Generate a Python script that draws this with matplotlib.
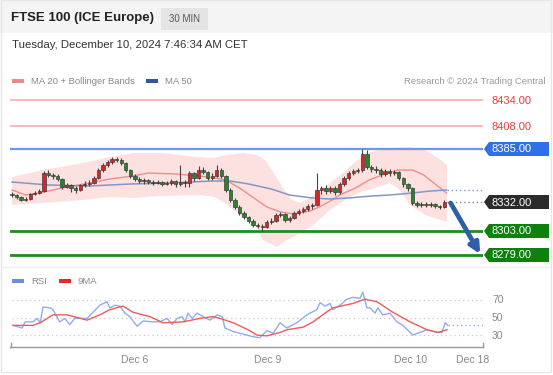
import numpy as np
import matplotlib
matplotlib.use('Agg')
import matplotlib.pyplot as plt
from matplotlib.patches import Polygon, Rectangle

plt.rcParams['font.family'] = ['Liberation Sans', 'DejaVu Sans']

# ---- data ----
opens = [8340, 8339, 8337, 8334, 8335, 8340, 8341, 8343, 8361, 8359, 8358, 8355, 8347, 8349, 8346, 8344,
         8349, 8350, 8351, 8356, 8364, 8369, 8372, 8375, 8374, 8371, 8364, 8358, 8355, 8353, 8354, 8352,
         8351, 8352, 8350, 8351, 8353, 8350, 8352, 8351, 8361, 8356, 8364, 8362, 8356, 8358, 8364, 8358,
         8344, 8334, 8327, 8321, 8317, 8313, 8309, 8308, 8307, 8312, 8313, 8319, 8320, 8314, 8316, 8321,
         8323, 8325, 8328, 8329, 8344, 8346, 8343, 8346, 8342, 8350, 8356, 8361, 8363, 8364, 8380, 8367,
         8365, 8364, 8360, 8363, 8361, 8362, 8356, 8350, 8346, 8331, 8329, 8330, 8329, 8330, 8328, 8327]
closes = [8339, 8337, 8334, 8335, 8340, 8341, 8343, 8361, 8359, 8358, 8355, 8347, 8349, 8346, 8344, 8349,
          8350, 8351, 8356, 8364, 8369, 8372, 8375, 8374, 8371, 8364, 8358, 8355, 8353, 8354, 8352, 8351,
          8352, 8350, 8351, 8353, 8350, 8352, 8351, 8361, 8356, 8364, 8362, 8356, 8358, 8364, 8358, 8344,
          8334, 8327, 8321, 8317, 8313, 8309, 8308, 8307, 8312, 8313, 8319, 8320, 8314, 8316, 8321, 8323,
          8325, 8328, 8329, 8344, 8346, 8343, 8346, 8342, 8350, 8356, 8361, 8363, 8364, 8380, 8367, 8365,
          8364, 8360, 8363, 8361, 8362, 8356, 8350, 8346, 8331, 8329, 8330, 8329, 8330, 8328, 8327, 8332]
highs = [8342, 8340, 8338, 8337, 8341, 8343, 8345, 8363, 8364, 8361, 8360, 8356, 8351, 8350, 8348, 8350,
         8353, 8354, 8358, 8366, 8371, 8374, 8377, 8377, 8376, 8372, 8365, 8360, 8357, 8356, 8355, 8354,
         8354, 8353, 8353, 8355, 8354, 8369, 8354, 8363, 8362, 8368, 8367, 8363, 8361, 8369, 8366, 8359,
         8346, 8336, 8329, 8323, 8318, 8315, 8311, 8310, 8314, 8316, 8321, 8322, 8321, 8318, 8323, 8325,
         8327, 8330, 8331, 8361, 8348, 8349, 8348, 8348, 8352, 8358, 8363, 8365, 8366, 8385, 8384, 8369,
         8368, 8366, 8365, 8365, 8364, 8363, 8357, 8351, 8347, 8333, 8332, 8332, 8332, 8331, 8329, 8334]
lows = [8337, 8335, 8333, 8333, 8334, 8339, 8340, 8342, 8357, 8355, 8353, 8345, 8346, 8342, 8341, 8343,
        8347, 8348, 8350, 8355, 8362, 8367, 8370, 8372, 8369, 8362, 8356, 8353, 8351, 8350, 8350, 8349,
        8350, 8348, 8349, 8349, 8347, 8348, 8347, 8347, 8353, 8355, 8360, 8354, 8354, 8357, 8356, 8342,
        8332, 8325, 8319, 8315, 8311, 8307, 8306, 8303, 8306, 8310, 8312, 8317, 8312, 8312, 8315, 8319,
        8321, 8323, 8325, 8328, 8340, 8340, 8341, 8339, 8340, 8348, 8354, 8359, 8361, 8362, 8365, 8362,
        8361, 8357, 8358, 8358, 8359, 8354, 8347, 8343, 8329, 8327, 8327, 8327, 8327, 8326, 8325, 8326]

ma20_x = [0, 3, 7, 12, 17, 21.5, 26.5, 30, 36, 41, 44.5, 47, 50, 53.5, 56, 59, 62, 65.5, 67.5, 70, 72,
          75.5, 78.5, 82.5, 85, 88, 90.5, 93, 95.5]
ma20 = [8344, 8339, 8342, 8347, 8351, 8355, 8358, 8361, 8360, 8358, 8356, 8354, 8346, 8335, 8327, 8322,
        8320, 8323, 8327, 8333, 8339, 8346, 8354, 8361, 8364, 8364, 8359, 8350, 8341]
ma50_x = [0, 8, 17, 26, 35, 44, 48, 52, 57, 61, 66, 70, 74, 79, 83, 88, 92, 95.5]
ma50 = [8352, 8349, 8348, 8350, 8351, 8353, 8353, 8350, 8345, 8339, 8336, 8335, 8336, 8338, 8339, 8341,
        8343, 8344]
bb_up_x = [0, 6.8, 15.6, 21.5, 26.6, 33.2, 40.7, 44.2, 47.3, 50.8, 53.8, 55.6, 57.4, 59.6, 61.5, 63.3,
           65.5, 67.7, 69.9, 72.1, 75.4, 78.7, 83.1, 87.5, 90.8, 93.6, 95.6]
bb_up = [8357, 8364, 8371, 8377, 8381, 8381, 8377, 8376, 8379, 8381, 8379, 8374, 8362, 8346, 8334, 8331,
         8336, 8344, 8351, 8358, 8372, 8382, 8386, 8387, 8384, 8376, 8369]
bb_lo_x = [0, 6.8, 15.6, 21.5, 26.6, 32.5, 41.3, 44.6, 46.8, 50.1, 53.0, 55.2, 58.2, 60.4, 62.6, 66.2,
           69.9, 73.2, 76.5, 79.8, 83.1, 85.3, 87.5, 90.8, 95.6]
bb_lo = [8329, 8331, 8334, 8337, 8336, 8338, 8339, 8337, 8331, 8319, 8311, 8294, 8287, 8294, 8299, 8309,
         8324, 8334, 8342, 8346, 8351, 8344, 8329, 8319, 8312]

rsi_x = [0.2, 2.2, 2.9, 4.6, 5.5, 6.2, 6.8, 8.4, 9.0, 10.5, 11.6, 12.7, 13.8, 14.9, 16.5, 17.8, 19.3,
         20.9, 21.5, 22.6, 23.7, 24.8, 25.9, 27.5, 28.8, 31.0, 32.5, 34.1, 35.2, 36.3, 37.4, 38.0, 38.7,
         39.6, 40.7, 42.0, 43.5, 45.1, 46.2, 46.8, 48.6, 50.8, 53.0, 54.5, 56.0, 57.4, 58.9, 60.4, 62.6,
         64.8, 67.0, 67.7, 68.8, 69.9, 70.5, 72.1, 73.6, 74.9, 76.5, 77.1, 78.0, 78.7, 79.8, 80.4, 81.5,
         83.1, 84.6, 85.9, 88.1, 89.7, 91.2, 93.4, 94.5, 95.2, 95.8]
rsi = [41, 38, 45, 45, 49, 44, 62, 61, 59, 45, 49, 42, 49, 49, 49, 56, 64, 68, 61, 64, 63, 55, 51, 40, 46,
       45, 45, 49, 42, 49, 51, 45, 55, 49, 55, 51, 47, 53, 51, 38, 34, 31, 28, 27, 35, 32, 44, 38, 44, 53,
       59, 67, 63, 66, 59, 64, 71, 73, 72, 79, 61, 61, 55, 61, 53, 55, 45, 41, 30, 33, 36, 33, 33, 44, 41]
ma9_x = [0.2, 4.6, 6.2, 9.0, 12.1, 16.5, 19.3, 21.5, 24.4, 26.6, 30.3, 33.2, 37.6, 41.3, 44.2, 45.7, 48.6,
         51.9, 53.8, 56.0, 58.9, 60.4, 64.0, 66.2, 68.8, 70.5, 74.9, 77.6, 80.2, 83.7, 87.5, 91.2, 93.6, 95.6]
ma9 = [41, 41, 44, 53, 53, 47, 53, 59, 63, 56, 51, 44, 45, 49, 51, 49, 44, 36, 30, 29, 33, 36, 39, 45, 55,
       61, 66, 71, 68, 56, 45, 36, 33, 36]

levels_res = [8434, 8408]
level_blue = 8385
level_last = 8332
levels_sup = [8303, 8279]
target = (8331, 8280)
rsi_levels = [70, 50, 30]
rsi_last = 41
tick_pos = [27, 56.3, 87.5, 101.3]
tick_labels = ['Dec 6', 'Dec 9', 'Dec 10', 'Dec 18']

W, H = 553, 375
fig = plt.figure(figsize=(W / 100, H / 100), dpi=100)
fig.patch.set_facecolor('white')


def rect(x0, y0, x1, y1):
    return [x0 / W, 1 - y1 / H, (x1 - x0) / W, (y1 - y0) / H]


ov = fig.add_axes([0, 0, 1, 1])
ov.set_xlim(0, W)
ov.set_ylim(H, 0)
ov.axis('off')

# header / frame
ov.add_patch(Rectangle((0, 0), W, 33, fc='#f4f4f4', ec='none'))
ov.add_patch(Rectangle((1, 0), W - 3, H - 3, fc='none', ec='#e6e6e6', lw=1))
ov.plot([3, W - 3], [267, 267], color='#f0f0f0', lw=1)
ov.text(11, 18, 'FTSE 100 (ICE Europe)', fontsize=9.5, fontweight='bold', color='#222', va='center')
ov.add_patch(Rectangle((161, 8), 47, 22, fc='#e4e4e4', ec='none'))
ov.text(184.5, 19, '30 MIN', fontsize=7, color='#555', va='center', ha='center')
ov.text(12, 45, 'Tuesday, December 10, 2024 7:46:34 AM CET', fontsize=8.2, color='#333', va='center')

# legends
ov.add_patch(Rectangle((12, 79), 12, 4, fc='#f08888', ec='none'))
ov.text(31, 81, 'MA 20 + Bollinger Bands', fontsize=6.8, color='#888', va='center')
ov.add_patch(Rectangle((146, 79), 12, 4, fc='#2f5597', ec='none'))
ov.text(165, 81, 'MA 50', fontsize=6.8, color='#888', va='center')
ov.text(545, 81, 'Research \u00a9 2024 Trading Central', fontsize=6.8, color='#999', va='center', ha='right')
ov.add_patch(Rectangle((12, 279), 12, 4, fc='#6a8fe0', ec='none'))
ov.text(31, 281, 'RSI', fontsize=6.8, color='#888', va='center')
ov.add_patch(Rectangle((59, 279), 12, 4, fc='#e82828', ec='none'))
ov.text(77, 281, '9MA', fontsize=6.8, color='#888', va='center')

# ---- main price panel ----
x_left, x_right = -0.44, 103.52
ax = fig.add_axes(rect(10, 88, 483, 262))
ax.set_xlim(x_left, x_right)
ax.set_ylim(8272, 8446)
ax.axis('off')

ax.fill(np.concatenate([bb_up_x, bb_lo_x[::-1]]), np.concatenate([bb_up, bb_lo[::-1]]),
        color='#fde0e0', lw=0, zorder=1)
ax.plot(ma20_x, ma20, color='#f28c8c', lw=1, zorder=3)
ax.plot(ma50_x, ma50, color='#8098c8', lw=1.1, zorder=3)
ax.plot([ma50_x[-1], x_right], [ma50[-1], ma50[-1]], color='#8098c8', lw=1, ls=(0, (1, 2)), zorder=3)

for lv in levels_res:
    ax.axhline(lv, color='#f7a5a5', lw=1.1, zorder=2)
ax.axhline(level_blue, color='#6d97ea', lw=1.6, zorder=2)
for lv in levels_sup:
    ax.axhline(lv, color='#1f8c1f', lw=2, zorder=2)

idx = np.arange(len(closes))
o = np.array(opens)
c = np.array(closes)
up = c >= o
cols = np.where(up, '#d42828', '#2a842a')
ax.vlines(idx, lows, highs, color='#444', lw=0.8, zorder=4)
ax.bar(idx, np.maximum(np.abs(c - o), 1.0), bottom=np.minimum(o, c), width=0.74,
       color=cols, edgecolor='#333', lw=0.45, zorder=5)

ax.plot([idx[-1] + 0.5, x_right], [level_last, level_last], color='#888', lw=1, ls=(0, (1, 2)), zorder=3)
ax.annotate('', xy=(102.9, target[1]), xytext=(96.4, target[0]),
            arrowprops=dict(arrowstyle='-|>', color='#2d5ea6', lw=3.4, mutation_scale=15,
                            shrinkA=0, shrinkB=0), zorder=6)


def ypx(axis, val):
    return H - axis.transData.transform((0, val))[1]


def tag(val, text, fc):
    y = ypx(ax, val)
    ov.add_patch(Polygon([(484, y), (489, y - 7), (549, y - 7), (549, y + 7), (489, y + 7)],
                         closed=True, fc=fc, ec='none'))
    ov.text(492, y + 0.5, text, fontsize=8, color='white', va='center')


for lv in levels_res:
    ov.text(492, ypx(ax, lv) + 0.5, f'{lv:.2f}', fontsize=8, color='#ee3b3b', va='center')
tag(level_blue, f'{level_blue:.2f}', '#2f6fea')
tag(level_last, f'{level_last:.2f}', '#2b2b2b')
for lv in levels_sup:
    tag(lv, f'{lv:.2f}', '#0d800d')

# ---- RSI panel ----
ax2 = fig.add_axes(rect(10, 288, 483, 347))
ax2.set_xlim(x_left, x_right)
ax2.set_ylim(16.3, 83.7)
ax2.set_facecolor('none')
for s in ['top', 'right', 'left']:
    ax2.spines[s].set_visible(False)
ax2.spines['bottom'].set_color('#999')
ax2.spines['bottom'].set_linewidth(1)
ax2.set_yticks([])
ax2.set_xticks(tick_pos)
ax2.set_xticklabels(tick_labels, fontsize=7.5, color='#888')
ax2.tick_params(axis='x', length=0, pad=6)
for lv in rsi_levels:
    ax2.axhline(lv, xmin=0.005, color='#c8c8c8', lw=0.9, ls=(0, (1, 2.5)))
    ov.text(492, ypx(ax2, lv) + 0.5, str(lv), fontsize=7.5, color='#888', va='center')
ax2.plot([0.002, 0.002], [0, 0.07], transform=ax2.transAxes, color='#999', lw=1, clip_on=False)
ax2.plot([0.999, 0.999], [0, 0.07], transform=ax2.transAxes, color='#999', lw=1, clip_on=False)
ax2.plot(rsi_x, rsi, color='#8fabf2', lw=1)
ax2.plot(ma9_x, ma9, color='#f05a5a', lw=1)
ax2.plot([rsi_x[-1], x_right], [rsi_last, rsi_last], color='#8fabf2', lw=1, ls=(0, (1, 2)))

fig.savefig('out.png', dpi=100)
